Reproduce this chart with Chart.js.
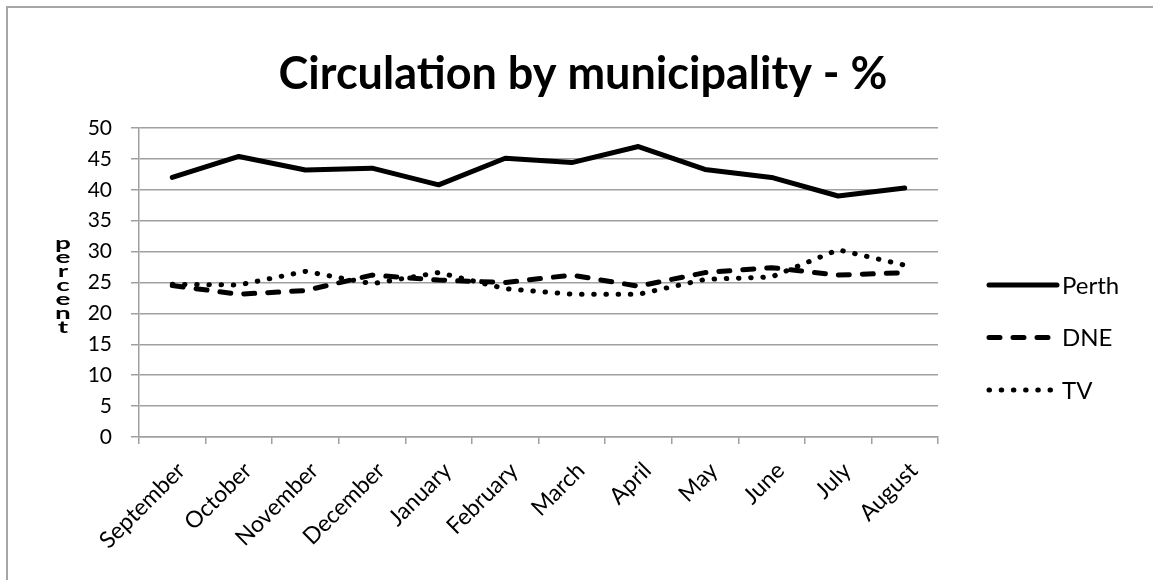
<!DOCTYPE html>
<html>
<head>
<meta charset="utf-8">
<script src="https://cdn.jsdelivr.net/npm/chart.js@4"></script>
<style>
  html, body { margin: 0; padding: 0; background: #fff; }
</style>
</head>
<body>
<canvas id="chart" width="1153" height="580"></canvas>
<script>
const months = ['September', 'October', 'November', 'December', 'January', 'February',
  'March', 'April', 'May', 'June', 'July', 'August'];
const perth = [42.0, 45.4, 43.2, 43.5, 40.8, 45.1, 44.4, 47.0, 43.3, 42.0, 39.0, 40.3];
const dne = [24.5, 23.1, 23.7, 26.2, 25.4, 25.0, 26.2, 24.4, 26.6, 27.4, 26.2, 26.6];
const tv = [24.7, 24.6, 26.8, 24.8, 26.6, 24.0, 23.1, 23.1, 25.5, 25.9, 30.3, 27.8];
const title = 'Circulation by municipality - %';
const yLabel = 'percent';

const FONT = 'Lato, "Open Sans", sans-serif';
const GRID = '#a0a0a0';

// frame, title, stacked y title and the legend on the right
const decor = {
  id: 'decor',
  beforeDraw(chart) {
    const ctx = chart.ctx;
    ctx.save();
    ctx.fillStyle = '#fff';
    ctx.fillRect(0, 0, chart.width, chart.height);
    ctx.strokeStyle = '#a6a6a6';
    ctx.lineWidth = 2;
    ctx.beginPath();
    ctx.moveTo(7, chart.height);
    ctx.lineTo(7, 7);
    ctx.lineTo(chart.width, 7);
    ctx.stroke();
    ctx.restore();
  },
  afterDraw(chart) {
    const ctx = chart.ctx;
    ctx.save();
    ctx.fillStyle = '#000';

    ctx.textAlign = 'center';
    ctx.textBaseline = 'alphabetic';
    ctx.font = 'bold 45px ' + FONT;
    ctx.fillText(title, 583, 89);

    ctx.textBaseline = 'middle';
    ctx.font = 'bold 28px ' + FONT;
    yLabel.split('').forEach((ch, i) => {
      ctx.save();
      ctx.translate(63, 244 + i * 14);
      ctx.scale(1.0, 0.6);
      ctx.fillText(ch, 0, 0);
      ctx.restore();
    });

    // legend
    ctx.textAlign = 'left';
    ctx.font = '24px ' + FONT;
    chart.data.datasets.forEach((ds, i) => {
      const y = 285 + i * 52.5;
      ctx.strokeStyle = ds.borderColor;
      ctx.lineWidth = ds.borderWidth;
      ctx.lineCap = 'round';
      ctx.setLineDash(ds.borderDash || []);
      ctx.beginPath();
      ctx.moveTo(989, y);
      ctx.lineTo(1057, y);
      ctx.stroke();
      ctx.setLineDash([]);
      ctx.fillText(ds.label, 1062, y + 1);
    });
    ctx.restore();
  }
};

const lineStyle = {
  borderColor: '#000',
  borderWidth: 5,
  pointRadius: 0,
  tension: 0,
  fill: false,
  borderCapStyle: 'round',
  borderJoinStyle: 'round'
};

new Chart(document.getElementById('chart'), {
  type: 'line',
  data: {
    labels: months,
    datasets: [
      { ...lineStyle, label: 'Perth', data: perth },
      { ...lineStyle, label: 'DNE', data: dne, borderDash: [11, 13] },
      { ...lineStyle, label: 'TV', data: tv, borderDash: [0.5, 11.7] }
    ]
  },
  options: {
    responsive: false,
    animation: false,
    layout: { padding: { left: 0, right: 215, top: 128, bottom: 0 } },
    plugins: {
      legend: { display: false },
      tooltip: { enabled: false },
      title: { display: false }
    },
    scales: {
      x: {
        offset: true,
        grid: { display: true, drawOnChartArea: false, drawTicks: true, tickLength: 7, color: GRID, lineWidth: 1.5, offset: true },
        border: { display: true, color: GRID, width: 1.5 },
        ticks: {
          color: '#000',
          font: { family: FONT, size: 23 },
          minRotation: 45,
          maxRotation: 45,
          padding: 13,
          labelOffset: 9,
          autoSkip: false
        },
        afterFit(scale) { scale.height = 143; }
      },
      y: {
        min: 0,
        max: 50,
        grid: { color: GRID, lineWidth: 1.5, tickLength: 8 },
        border: { display: true, color: GRID, width: 1.5 },
        ticks: {
          stepSize: 5,
          color: '#000',
          font: { family: FONT, size: 21 },
          padding: 19
        },
        afterFit(scale) { scale.width = 139; }
      }
    }
  },
  plugins: [decor]
});
</script>
</body>
</html>
